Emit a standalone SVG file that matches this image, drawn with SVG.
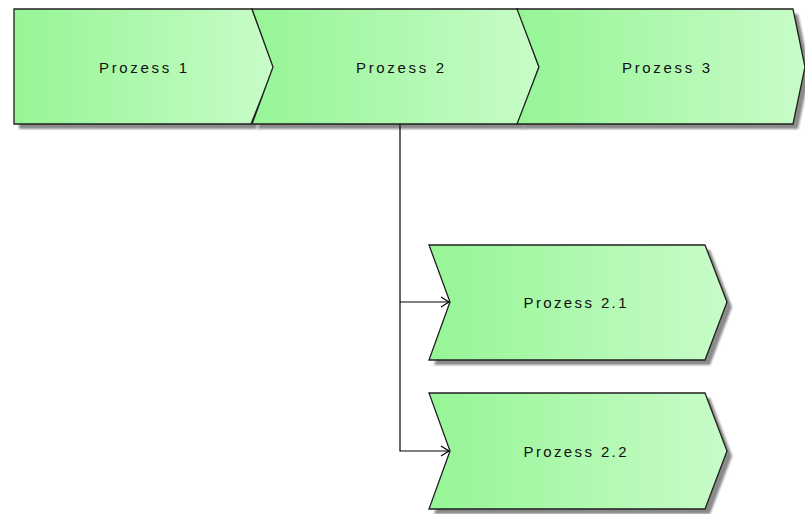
<svg xmlns="http://www.w3.org/2000/svg" width="805" height="514" viewBox="0 0 805 514">
<style>
.node{stroke:#202020;stroke-width:1.3;stroke-linejoin:miter}
.shadow{fill:#8a8a8a;filter:url(#blur)}
.label{font-family:"Liberation Sans",Arial,sans-serif;font-size:15px;fill:#111;text-anchor:middle}
.conn{fill:none;stroke:#000;stroke-width:1.2}
</style>
<defs>
<linearGradient id="g1" gradientUnits="userSpaceOnUse" x1="14" y1="0" x2="274" y2="0"><stop offset="0" stop-color="#96f596"/><stop offset="1" stop-color="#c8fcc8"/></linearGradient>
<linearGradient id="g2" gradientUnits="userSpaceOnUse" x1="252" y1="0" x2="539" y2="0"><stop offset="0" stop-color="#96f596"/><stop offset="1" stop-color="#c8fcc8"/></linearGradient>
<linearGradient id="g3" gradientUnits="userSpaceOnUse" x1="517" y1="0" x2="805" y2="0"><stop offset="0" stop-color="#96f596"/><stop offset="1" stop-color="#c8fcc8"/></linearGradient>
<linearGradient id="g4" gradientUnits="userSpaceOnUse" x1="429" y1="0" x2="727" y2="0"><stop offset="0" stop-color="#96f596"/><stop offset="1" stop-color="#c8fcc8"/></linearGradient>
<filter id="blur" x="-5%" y="-5%" width="110%" height="110%"><feGaussianBlur stdDeviation="1"/></filter>
<marker id="arr" markerWidth="12" markerHeight="12" refX="10" refY="6" orient="auto" markerUnits="userSpaceOnUse"><path d="M2,1 L10,6 L2,11" fill="none" stroke="#000" stroke-width="1.2"/></marker>
</defs>
<g id="shadows">
<polygon class="shadow" transform="translate(5,5)" points="14,9 252,9 274,67 251,124 14,124"/>
<polygon class="shadow" transform="translate(5,5)" points="252,9 518,9 539,67 518,124 252,124 273,67"/>
<polygon class="shadow" transform="translate(5,5)" points="517,9 793,9 805,67 793,124 517,124 539,67"/>
<polygon class="shadow" transform="translate(5,5)" points="429,245 705,245 727,302 705,360 429,360 450,302"/>
<polygon class="shadow" transform="translate(5,5)" points="429,393 705,393 727,451 705,509 429,509 450,451"/>
</g>
<g id="connectors">
<path class="conn" d="M400,124 V451 H449" marker-end="url(#arr)"/>
<path class="conn" d="M400,302 H449" marker-end="url(#arr)"/>
</g>
<g id="p1">
<polygon class="node" fill="url(#g1)" points="14,9 252,9 274,67 251,124 14,124"/>
<text class="label" x="143" y="73" textLength="88" lengthAdjust="spacing">Prozess 1</text>
</g>
<g id="p2">
<polygon class="node" fill="url(#g2)" points="252,9 518,9 539,67 518,124 252,124 273,67"/>
<text class="label" x="400" y="73" textLength="88" lengthAdjust="spacing">Prozess 2</text>
</g>
<g id="p3">
<polygon class="node" fill="url(#g3)" points="517,9 793,9 805,67 793,124 517,124 539,67"/>
<text class="label" x="666" y="73" textLength="88" lengthAdjust="spacing">Prozess 3</text>
</g>
<g id="p21">
<polygon class="node" fill="url(#g4)" points="429,245 705,245 727,302 705,360 429,360 450,302"/>
<text class="label" x="575" y="308" textLength="103" lengthAdjust="spacing">Prozess 2.1</text>
</g>
<g id="p22">
<polygon class="node" fill="url(#g4)" points="429,393 705,393 727,451 705,509 429,509 450,451"/>
<text class="label" x="575" y="457" textLength="103" lengthAdjust="spacing">Prozess 2.2</text>
</g>
</svg>
